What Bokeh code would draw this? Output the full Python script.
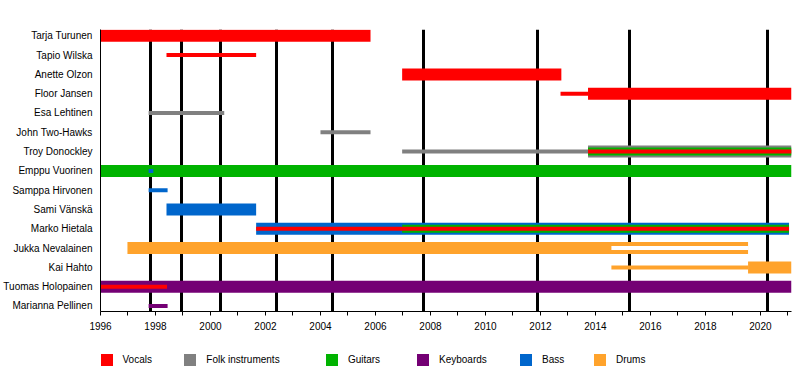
from bokeh.plotting import figure
from bokeh.layouts import column
from bokeh.models import Range1d, FixedTicker, Legend, LegendItem, ColumnDataSource
from bokeh.embed import file_html
from bokeh.resources import INLINE

# ---------------- data ----------------
members = ["Tarja Turunen", "Tapio Wilska", "Anette Olzon", "Floor Jansen",
           "Esa Lehtinen", "John Two-Hawks", "Troy Donockley", "Emppu Vuorinen",
           "Samppa Hirvonen", "Sami Vänskä", "Marko Hietala", "Jukka Nevalainen",
           "Kai Hahto", "Tuomas Holopainen", "Marianna Pellinen"]
instruments = ["Vocals", "Folk instruments", "Guitars", "Keyboards", "Bass", "Drums"]
album_dates = [1997.83, 1998.93, 2000.38, 2002.39, 2004.43, 2007.73, 2011.91, 2015.23, 2020.27]
START = 1996.0
END = 2021.13

# main (thick) bars
main_member = ["Tarja Turunen", "Anette Olzon", "Floor Jansen", "Troy Donockley",
               "Emppu Vuorinen", "Sami Vänskä", "Marko Hietala", "Jukka Nevalainen",
               "Kai Hahto", "Tuomas Holopainen"]
main_role = ["Vocals", "Vocals", "Vocals", "Folk instruments", "Guitars", "Bass",
             "Bass", "Drums", "Drums", "Keyboards"]
main_start = [1996.0, 2006.97, 2013.73, 2013.73, 1996.0, 1998.40, 2001.66, 1996.98, 2019.55, 1996.0]
main_end = [2005.82, 2012.76, END, END, END, 2001.66, 2021.04, 2019.55, END, END]

# second instrument (medium) bars
mid_member = ["Troy Donockley", "Marko Hietala"]
mid_role = ["Guitars", "Guitars"]
mid_start = [2013.73, 2006.97]
mid_end = [END, 2021.04]

# additional / touring / inactive (thin) bars
thin_member = ["Tapio Wilska", "Floor Jansen", "Esa Lehtinen", "John Two-Hawks",
               "Troy Donockley", "Troy Donockley", "Emppu Vuorinen", "Samppa Hirvonen",
               "Marko Hietala", "Jukka Nevalainen", "Kai Hahto", "Tuomas Holopainen",
               "Marianna Pellinen"]
thin_role = ["Vocals", "Vocals", "Folk instruments", "Folk instruments",
             "Folk instruments", "Vocals", "Bass", "Bass",
             "Vocals", "Inactive", "Drums", "Vocals", "Keyboards"]
thin_start = [1998.40, 2012.73, 1997.75, 2004.00, 2006.97, 2013.73, 1997.75, 1997.75,
              2001.66, 2014.58, 2014.58, 1996.0, 1997.75]
thin_end = [2001.66, 2013.73, 2000.50, 2005.82, 2013.73, END, 1997.92, 1998.44,
            2021.04, 2019.55, 2019.55, 1998.42, 1998.44]

# ---------------- styles ----------------
palette = {"Vocals": "#FF0000", "Folk instruments": "#808080", "Guitars": "#00B300",
           "Keyboards": "#740074", "Bass": "#0066CC", "Drums": "#FFA32C",
           "Inactive": "#FFFFFF"}
FONT = "Liberation Sans"
ROW_PX = 19.3

p = figure(width=792, height=340,
           x_range=Range1d(START, END), y_range=Range1d(14.285, -0.326),
           output_backend="svg", toolbar_location=None, title_location=None,
           min_border_left=100, min_border_right=1, min_border_top=29, min_border_bottom=29)
p.grid.grid_line_color = None
p.outline_line_color = None
p.background_fill_color = "white"
p.border_fill_color = "white"

# album release lines (behind bars)
p.vspan(x=album_dates, line_color="black", line_width=3)


def layer(mem, role, start, end, px):
    src = ColumnDataSource(dict(
        y=[members.index(m) for m in mem], left=start, right=end,
        color=[palette[r] for r in role]))
    return p.hbar(y="y", left="left", right="right", height=px / ROW_PX,
                  fill_color="color", line_color=None, source=src)


layer(main_member, main_role, main_start, main_end, 12)
layer(mid_member, mid_role, mid_start, mid_end, 8)
layer(thin_member, thin_role, thin_start, thin_end, 4)

# axes
xa = p.xaxis[0]
xa.ticker = FixedTicker(ticks=list(range(1996, 2021, 2)), minor_ticks=list(range(1997, 2022, 2)))
xa.axis_line_color = "black"
xa.major_tick_line_color = "black"
xa.minor_tick_line_color = "black"
xa.major_tick_in = 0
xa.major_tick_out = 4
xa.minor_tick_in = 0
xa.minor_tick_out = 4
xa.major_label_standoff = 6
xa.major_label_text_font = FONT
xa.major_label_text_font_size = "10px"
xa.major_label_text_color = "black"

ya = p.yaxis[0]
ya.ticker = FixedTicker(ticks=list(range(len(members))))
ya.major_label_overrides = {i: n for i, n in enumerate(members)}
ya.axis_line_color = "black"
ya.major_tick_line_color = None
ya.minor_tick_line_color = None
ya.major_tick_in = 0
ya.major_tick_out = 0
ya.major_label_standoff = 8
ya.major_label_text_font = FONT
ya.major_label_text_font_size = "10px"
ya.major_label_text_color = "black"

# ---------------- legend strip (frame aligned with the chart above) ----------------
q = figure(width=792, height=30, x_range=Range1d(0, 691), y_range=Range1d(0, 1),
           output_backend="svg", toolbar_location=None, title_location=None,
           x_axis_type=None, y_axis_type=None, min_border=0)
q.grid.grid_line_color = None
q.outline_line_color = None
q.background_fill_color = "white"
q.border_fill_color = "white"

key_src = ColumnDataSource(dict(y=[-10] * len(instruments), left=[0] * len(instruments),
                                right=[1] * len(instruments),
                                color=[palette[i] for i in instruments]))
r_key = q.hbar(y="y", left="left", right="right", height=0.5, fill_color="color",
               line_color=None, source=key_src)

legend_x = [-1.5, 82.3, 223.9, 315, 418, 492]
for k, (inst, lx) in enumerate(zip(instruments, legend_x)):
    item = LegendItem(label=inst, renderers=[r_key], index=k)
    leg = Legend(items=[item], location=(lx, 3.5), orientation="horizontal",
                 glyph_width=15, glyph_height=15, label_height=15, label_width=10,
                 label_standoff=9, padding=0, margin=0, spacing=0,
                 border_line_color=None, background_fill_alpha=0,
                 label_text_font=FONT, label_text_font_size="10px",
                 label_text_color="black")
    q.add_layout(leg)

layout = column(p, q, spacing=0)
open("out.html", "w").write(file_html(layout, INLINE))
